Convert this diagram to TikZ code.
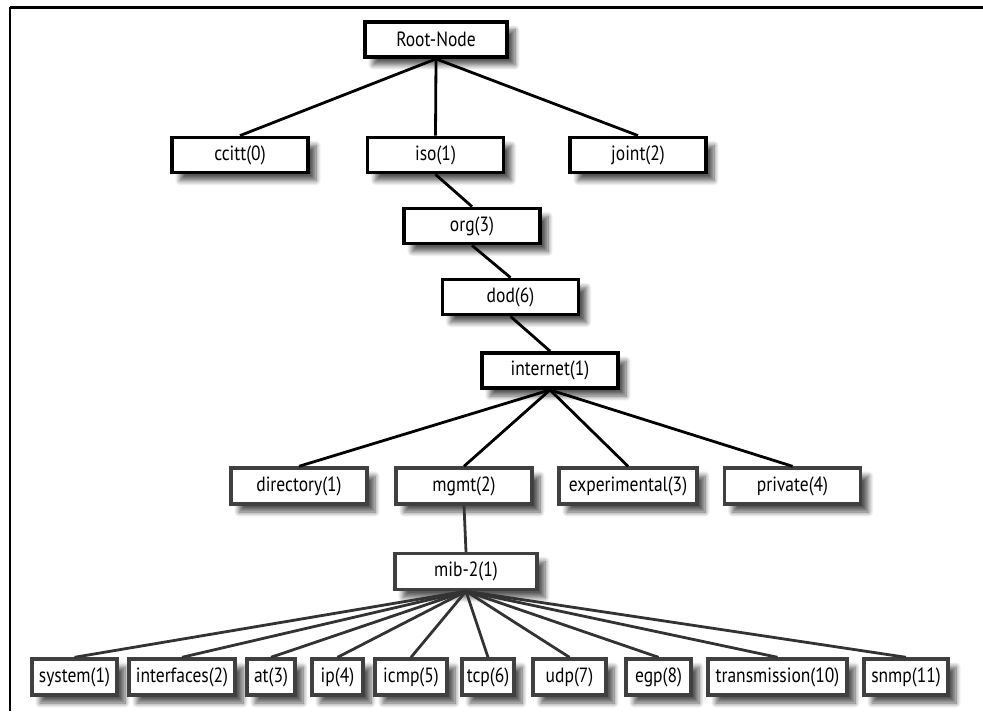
\documentclass[tikz,border=0pt]{standalone}
\usepackage{fontspec}
\setmainfont{PT Sans}[FakeStretch=0.85]
\usetikzlibrary{shadows.blur}

\tikzset{
    topbox/.style={draw=black, line width=1.9pt, fill=white, inner sep=0pt,
        minimum height=17.5pt, font=\fontsize{10.3}{12}\selectfont,
        blur shadow={shadow xshift=4pt, shadow yshift=-4pt, shadow blur steps=8,
            shadow blur radius=2.5pt, shadow opacity=65}},
    lowbox/.style={topbox, draw=black!75, line width=1.7pt, minimum height=18pt},
    link/.style={black, line width=1.4pt},
    lowlink/.style={black!80, line width=1.4pt}
}

\begin{document}
\begin{tikzpicture}[x=0.5pt, y=-0.5pt]
    \useasboundingbox (0,0) rectangle (983,711);

    % Frame
    \draw[line width=1.5pt] (983,7.5) -- (9.5,7.5);
    \draw[line width=1pt] (10,7.5) -- (10,711);

    % Upper levels
    \node[topbox, minimum width=71pt] (root) at (436,39.5) {Root-Node};
    \node[topbox, minimum width=68pt] (ccitt) at (240,155) {ccitt(0)};
    \node[topbox, minimum width=68pt] (iso) at (435.5,155) {iso(1)};
    \node[topbox, minimum width=68pt] (joint) at (638,155) {joint(2)};
    \node[topbox, minimum width=68pt] (org) at (472,226) {org(3)};
    \node[topbox, minimum width=68pt] (dod) at (510.5,297) {dod(6)};
    \node[topbox, minimum width=68pt] (internet) at (550,370.5) {internet(1)};

    % Below internet
    \node[lowbox, minimum width=68pt] (directory) at (299,486) {directory(1)};
    \node[lowbox, minimum width=68pt] (mgmt) at (464,486) {mgmt(2)};
    \node[lowbox, minimum width=69pt] (experimental) at (628,486) {experimental(3)};
    \node[lowbox, minimum width=68pt] (private) at (792.5,486) {private(4)};
    \node[lowbox, minimum width=71pt] (mib) at (466,571.5) {mib-2(1)};

    % Groups under mib-2
    \node[lowbox, minimum width=42.5pt] (system) at (74.5,677) {system(1)};
    \node[lowbox, minimum width=53pt] (interfaces) at (182,677) {interfaces(2)};
    \node[lowbox, minimum width=24pt] (at) at (271,677) {at(3)};
    \node[lowbox, minimum width=25.5pt] (ip) at (337.5,677) {ip(4)};
    \node[lowbox, minimum width=36pt] (icmp) at (411,677) {icmp(5)};
    \node[lowbox, minimum width=26pt] (tcp) at (488,677) {tcp(6)};
    \node[lowbox, minimum width=36.5pt] (udp) at (569.5,677) {udp(7)};
    \node[lowbox, minimum width=32.5pt] (egp) at (658.5,677) {egp(8)};
    \node[lowbox, minimum width=69.5pt] (transmission) at (777.5,677) {transmission(10)};
    \node[lowbox, minimum width=42pt] (snmp) at (906,677) {snmp(11)};

    % Links
    \foreach \child in {ccitt, iso, joint}
        \draw[link] (root.south) -- (\child.north);
    \draw[link] (iso.south) -- (org.north);
    \draw[link] (org.south) -- (dod.north);
    \draw[link] (dod.south) -- (internet.north);
    \foreach \child in {directory, mgmt, experimental, private}
        \draw[link] (internet.south) -- (\child.north);
    \draw[lowlink] (mgmt.south) -- (mib.north);
    \foreach \child in {system, interfaces, at, ip, icmp, tcp, udp, egp, transmission, snmp}
        \draw[lowlink] (mib.south) -- (\child.north);
\end{tikzpicture}
\end{document}
